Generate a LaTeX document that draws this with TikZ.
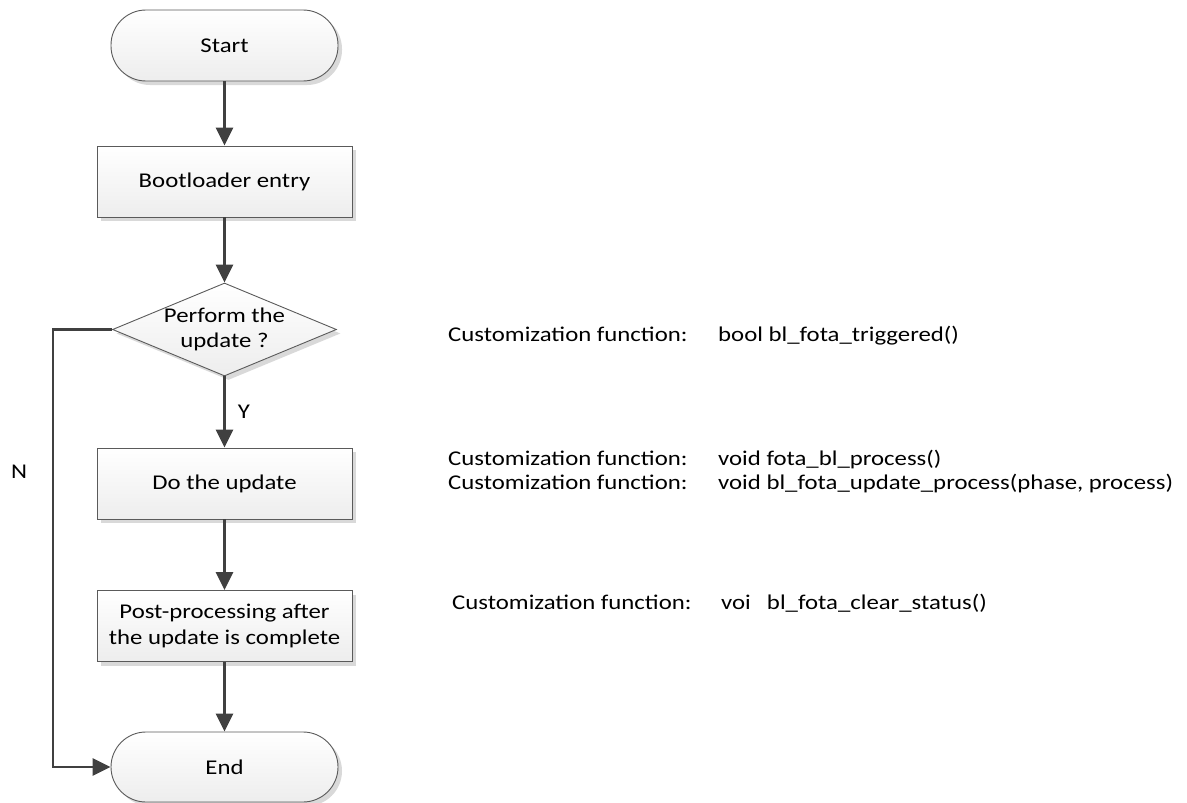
\documentclass[tikz,border=0pt]{standalone}
\usepackage{fontspec}
\setmainfont{Carlito}[FakeStretch=1.18]
\usetikzlibrary{shapes.geometric,arrows.meta,shadows}
\definecolor{lc}{HTML}{404040}
\definecolor{bc}{HTML}{5A5A5A}
\definecolor{fillc}{HTML}{EDEDED}
\definecolor{shc}{HTML}{D9D9D9}
\newcommand\dfont{\fontsize{21}{25.6}\selectfont}
\begin{document}
\begin{tikzpicture}[x=1pt,y=-1pt,
  conn/.style={draw=lc, line width=2.6pt},
  arr/.style={conn, -{Triangle[length=18pt,width=17pt]}},
  shp/.style={draw=bc, line width=0.9pt, top color=white, bottom color=fillc,
    inner sep=0pt, align=center, font=\dfont, text=black,
    drop shadow={shadow xshift=4pt, shadow yshift=-4pt, fill=shc, opacity=1}},
  stepbox/.style={shp, rectangle, minimum width=255pt, minimum height=71pt},
  term/.style={shp, rectangle, rounded corners=35pt, minimum width=227pt, minimum height=71pt},
  decide/.style={shp, diamond, minimum width=224pt, minimum height=93pt},
  txt/.style={inner sep=0pt, font=\dfont, text=black}]
\useasboundingbox (0,0) rectangle (1187,803);
\node[term] (start) at (224.5,45.5) {Start};
\node[stepbox] (boot) at (224.5,181.5) {Bootloader entry};
\node[decide] (dec) at (224.5,329.5) {};
\node[txt, align=center] (dectext) at (224.5,329.5) {Perform the\\update ?};
\node[stepbox] (upd) at (224.5,483.5) {Do the update};
\node[stepbox] (post) at (224.5,626) {Post-processing after\\the update is complete};
\node[term, minimum height=70pt] (end) at (224.5,767) {End};

\draw[arr] (start) -- (boot);
\draw[arr] (boot) -- (dec);
\draw[arr] (dec) -- node[txt, right=12pt, pos=0.5] (ylab) {Y} (upd);
\draw[arr] (upd) -- (post);
\draw[arr] (post) -- (end);
\coordinate (nc) at (53,329.5);
\draw[arr] (dec.west) -- (nc) |- (end.west);
\node[txt] (nlab) at (19,472) {N};

\node[txt, anchor=base west] (c1) at (448,341) {Customization function:};
\node[txt, anchor=base west] (f1) at (718,341) {bool bl\_fota\_triggered()};
\node[txt, anchor=base west] (c2) at (448,465) {Customization function:};
\node[txt, anchor=base west] (f2) at (718,465) {void fota\_bl\_process()};
\node[txt, anchor=base west] (c3) at (448,489) {Customization function:};
\node[txt, anchor=base west] (f3) at (718,489) {void bl\_fota\_update\_process(phase, process)};
\node[txt, anchor=base west] (c4) at (452,609) {Customization function:};
\node[txt, anchor=base west] (f4) at (721,609) {voi\hspace{0.5em} bl\_fota\_clear\_status()};
\end{tikzpicture}
\end{document}
